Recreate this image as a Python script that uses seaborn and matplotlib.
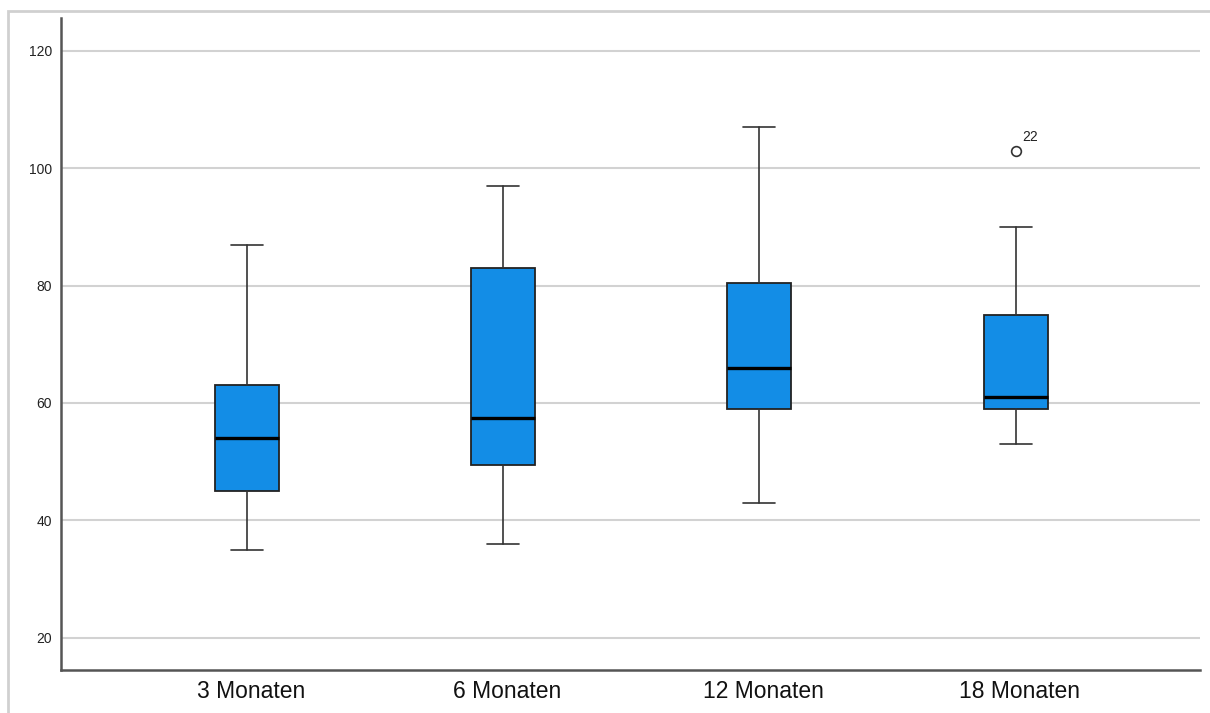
import matplotlib
matplotlib.use("Agg")
import matplotlib.pyplot as plt
import matplotlib.patches as mpatches
import matplotlib.transforms as mtransforms
import seaborn as sns

# values (SPSS style boxplot)
groups = ["3 Monaten", "6 Monaten", "12 Monaten", "18 Monaten"]
whisker_low = [35, 36, 43, 53]
q1 = [45, 49.5, 59, 59]
median = [54, 57.5, 66, 61]
q3 = [63, 83, 80.5, 75]
whisker_high = [87, 97, 107, 90]
outliers = [[], [], [], [103]]
outlier_ids = [[], [], [], ["22"]]
y_ticks = [20, 40, 60, 80, 100, 120]

sns.set_style("white")
plt.rcParams["font.family"] = ["Liberation Sans", "DejaVu Sans"]

box_color = "#138de6"
grid_color = "#d2d2d2"

stats = []
for i, g in enumerate(groups):
    stats.append(dict(label=g, whislo=whisker_low[i], q1=q1[i], med=median[i],
                      q3=q3[i], whishi=whisker_high[i], fliers=outliers[i]))

fig = plt.figure(figsize=(12.1, 7.13), dpi=100)
ax = fig.add_axes([61 / 1210, 1 - 670 / 713, (1200 - 61) / 1210, (670 - 18) / 713])

for t in y_ticks:
    ax.axhline(t, color=grid_color, lw=1.5, zorder=0)

positions = list(range(len(groups)))
ax.bxp(stats, positions=positions, widths=0.25, patch_artist=True,
       showfliers=True, manage_ticks=False,
       boxprops=dict(facecolor=box_color, edgecolor="#222222", linewidth=1.3),
       medianprops=dict(color="black", linewidth=2.4),
       whiskerprops=dict(color="#333333", linewidth=1.2),
       capprops=dict(color="#333333", linewidth=1.2),
       capwidths=0.125,
       flierprops=dict(marker="o", markerfacecolor="white", markeredgecolor="#333333",
                       markersize=7, markeredgewidth=1.2))

for i, (vals, ids) in enumerate(zip(outliers, outlier_ids)):
    for v, lab in zip(vals, ids):
        ax.annotate(lab, xy=(positions[i], v), xytext=(4.5, 7), textcoords="offset points",
                    fontsize=10, color="#222222")

ax.set_xlim(-0.727, 3.72)
ax.set_ylim(14.5, 125.6)
ax.set_yticks(y_ticks)
ax.set_xticks(positions)
ax.set_xticklabels(groups, fontsize=16.5, color="#111111")
ax.tick_params(axis="y", labelsize=10, length=0, pad=6.5, labelcolor="#222222")
ax.tick_params(axis="x", length=0, pad=7)

# category labels sit a few pixels right of the box centres in the reference
shift = mtransforms.ScaledTranslation(4 / 100, 0, fig.dpi_scale_trans)
for lbl in ax.get_xticklabels():
    lbl.set_transform(lbl.get_transform() + shift)

for side in ["top", "right"]:
    ax.spines[side].set_visible(False)
for side in ["left", "bottom"]:
    ax.spines[side].set_color("#555555")
    ax.spines[side].set_linewidth(1.8)

# light gray frame around the chart, as in the exported viewer
frame = mpatches.Rectangle((8 / 1210, -0.05), 1.1, 1 - 11 / 713 + 0.05,
                           transform=fig.transFigure, fill=False,
                           edgecolor="#d0d0d0", linewidth=2)
fig.patches.append(frame)

fig.savefig("out.png", dpi=100)
